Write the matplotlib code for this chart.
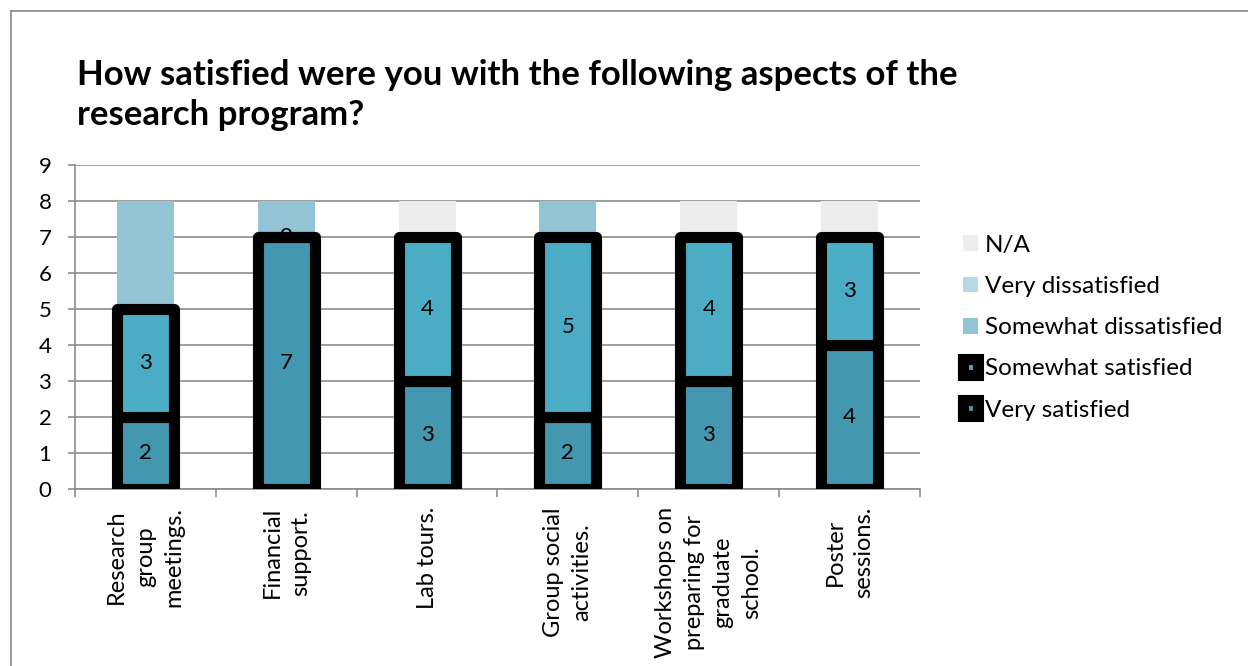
import numpy as np
import matplotlib
matplotlib.use('Agg')
import matplotlib.pyplot as plt
from matplotlib.lines import Line2D

plt.rcParams['font.family'] = ['Lato', 'DejaVu Sans']

# data
categories = ['Research\ngroup\nmeetings.', 'Financial\nsupport.', 'Lab tours.',
              'Group social\nactivities.', 'Workshops on\npreparing for\ngraduate\nschool.',
              'Poster\nsessions.']
very_satisfied = [2, 7, 3, 2, 3, 4]
somewhat_satisfied = [3, 0, 4, 5, 4, 3]
somewhat_dissatisfied = [3, 1, 0, 1, 0, 0]
very_dissatisfied = [0, 0, 0, 0, 0, 0]
not_applicable = [0, 0, 1, 0, 1, 1]

title_lines = ['How satisfied were you with the following aspects of the', 'research program?']

if __name__ == '__main__':

    fig = plt.figure(figsize=(12.48, 6.66), dpi=100)
    ax = fig.add_axes([75/1248, 177/666, 845/1248, 324/666])

    x = np.arange(len(categories))
    width = 0.405
    edge_kw = dict(edgecolor='black', linewidth=8, joinstyle='round')

    # stacked bars
    b1 = ax.bar(x, very_satisfied, width, color='#4397ae', label='Very satisfied', zorder=3, **edge_kw)
    bottom = np.array(very_satisfied)
    b2 = ax.bar(x, somewhat_satisfied, width, bottom=bottom, color='#4bacc6',
                label='Somewhat satisfied', zorder=3, **edge_kw)
    bottom = bottom + np.array(somewhat_satisfied)
    ax.bar(x, somewhat_dissatisfied, width, bottom=bottom, color='#93c4d5',
           label='Somewhat dissatisfied', zorder=2)
    bottom = bottom + np.array(somewhat_dissatisfied)
    ax.bar(x, very_dissatisfied, width, bottom=bottom, color='#b7d9e6',
           label='Very dissatisfied', zorder=2)
    bottom = bottom + np.array(very_dissatisfied)
    ax.bar(x, not_applicable, width, bottom=bottom, color='#ececec', label='N/A', zorder=2)

    # data labels
    ax.bar_label(b1, label_type='center', fontsize=16, zorder=5)
    ax.bar_label(b2, label_type='center', fontsize=16, zorder=5)

    # axes settings
    ax.set_ylim(0, 9)
    ax.set_yticks(np.arange(0, 10, 1))
    ax.set_xlim(-0.5, len(categories) - 0.5)
    ax.set_xticks(x)
    ax.set_xticklabels(categories, rotation=90, ha='center', va='top', multialignment='center',
                       fontsize=17, linespacing=1.45)
    ax.set_xticks(np.arange(-0.5, len(categories), 1), minor=True)
    ax.tick_params(axis='x', which='major', length=0, pad=13)
    ax.tick_params(axis='x', which='minor', length=6, width=1.2, color='#8c8c8c')
    ax.tick_params(axis='y', length=5, width=1.2, color='#8c8c8c', labelsize=16, pad=12)

    for s in ['top', 'right']:
        ax.spines[s].set_visible(False)
    for s in ['left', 'bottom']:
        ax.spines[s].set_color('#8c8c8c')
        ax.spines[s].set_linewidth(1.2)

    ax.yaxis.grid(True, color='#8c8c8c', linewidth=1.2, zorder=0)
    ax.set_axisbelow(True)

    # title, two lines
    fig.text(77/1248, 1 - 85/666, title_lines[0], fontsize=25, fontweight='bold', va='baseline', ha='left')
    fig.text(77/1248, 1 - 125/666, title_lines[1], fontsize=25, fontweight='bold', va='baseline', ha='left')

    # legend (reversed order)
    handles, labels = ax.get_legend_handles_labels()
    fig.legend(handles[::-1], labels[::-1], loc='upper left', bbox_to_anchor=(941/1248, 1 - 213/666),
               frameon=False, fontsize=17.5, handlelength=0.62, handleheight=0.62, handletextpad=0.3,
               labelspacing=0.83)

    # chart border
    fig.add_artist(Line2D([11/1248, 11/1248], [0, 1 - 11/666], color='#868686', linewidth=1.2))
    fig.add_artist(Line2D([11/1248, 1], [1 - 11/666, 1 - 11/666], color='#868686', linewidth=1.2))

    plt.savefig('out.png', dpi=100)
